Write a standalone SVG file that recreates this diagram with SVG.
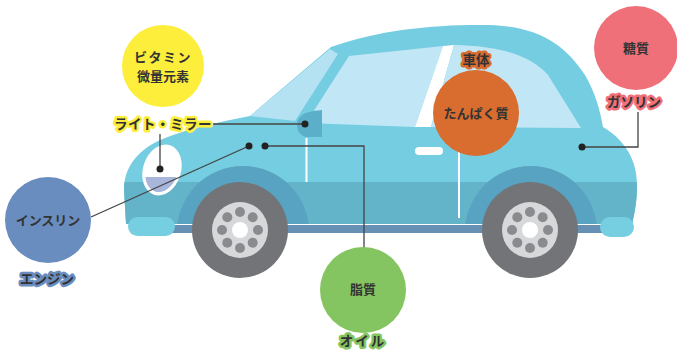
<svg xmlns="http://www.w3.org/2000/svg" width="677" height="354" viewBox="0 0 677 354">
  <defs>
    <style>
      .t { font-family: "Noto Sans CJK JP", "Noto Sans", sans-serif; font-weight: 700; fill: #333; text-anchor: middle; }
      .c { font-size: 13px; }
      .lbl { font-size: 13.5px; stroke-width: 5; stroke-linejoin: round; paint-order: stroke; }
      .ln { fill: none; stroke: #444; stroke-width: 1.3; }
      .dot { fill: #222; }
      .tire { fill: #737478; }
      .hub { fill: #d7d8da; }
      .bolt { fill: #8a8b8e; }
    </style>
    <clipPath id="bodyClip">
      <path d="M126,224 L124,190 C124,165 140,148 165,138 C190,128 220,122 250,116 L331,47 C380,29 440,24 490,25 C540,27 565,45 585,75 C595,92 600,110 603,127 C625,140 637,160 637,185 C637,200 635,212 632,224 Z"/>
    </clipPath>
    <clipPath id="lampLow">
      <rect x="130" y="177" width="60" height="30"/>
    </clipPath>
    <g id="wheel">
      <circle r="48" class="tire"/>
      <circle r="28" class="hub"/>
      <circle cx="0" cy="-18" r="5" class="bolt"/>
      <circle cx="12.7" cy="-12.7" r="5" class="bolt"/>
      <circle cx="18" cy="0" r="5" class="bolt"/>
      <circle cx="12.7" cy="12.7" r="5" class="bolt"/>
      <circle cx="0" cy="18" r="5" class="bolt"/>
      <circle cx="-12.7" cy="12.7" r="5" class="bolt"/>
      <circle cx="-18" cy="0" r="5" class="bolt"/>
      <circle cx="-12.7" cy="-12.7" r="5" class="bolt"/>
      <circle r="8" fill="#fff"/>
    </g>
  </defs>

  <rect width="677" height="354" fill="#fff"/>

  <!-- car body -->
  <g id="car">
    <g clip-path="url(#bodyClip)">
      <rect x="100" y="0" width="560" height="240" fill="#74cde0"/>
      <rect x="100" y="182" width="560" height="60" fill="#63b4c9"/>
      <circle cx="243" cy="232" r="66" fill="#57a3c1"/>
      <circle cx="531" cy="232" r="66" fill="#57a3c1"/>
    </g>
    <!-- underbody strip -->
    <rect x="160" y="225" width="450" height="8" fill="#6690b4"/>
    <!-- bumpers -->
    <rect x="128" y="217" width="47" height="19" rx="9.5" fill="#76cfe1"/>
    <rect x="600" y="217" width="34" height="20" rx="10" fill="#76cfe1"/>
    <!-- windshield glass -->
    <polygon points="250,116 330,49 338,54 295,121" fill="#b5e2f3"/>
    <!-- side windows -->
    <polygon points="349,56 443,46 415,127 306,123" fill="#c1e7f7"/>
    <polygon points="443,46 454,45 431,127 415,127" fill="#fff"/>
    <path d="M454,45 C500,46 530,55 548,75 L581,128 L431,127 Z" fill="#c1e7f7"/>
    <!-- mirror -->
    <path d="M322,110 L322,137 L306,137 C297,135 295,124 299,118 C304,112 312,111 322,110 Z" fill="#5bafc8"/>
    <!-- door lines and handle -->
    <line x1="306.5" y1="138" x2="306.5" y2="182" stroke="#fff" stroke-width="2"/>
    <line x1="459" y1="125" x2="459" y2="218" stroke="#fff" stroke-width="2"/>
    <rect x="415" y="147" width="28" height="8" rx="4" fill="#fff"/>
    <!-- headlight -->
    <g transform="rotate(18 162 170)">
      <ellipse cx="162" cy="170" rx="19" ry="26" fill="#fff"/>
    </g>
    <g clip-path="url(#lampLow)">
      <g transform="rotate(18 162 170)">
        <ellipse cx="162" cy="170" rx="16" ry="22.5" fill="#a9b6dc"/>
      </g>
    </g>
    <!-- wheels -->
    <use href="#wheel" x="240" y="230"/>
    <use href="#wheel" x="530" y="230"/>
  </g>

  <!-- connectors -->
  <g id="connectors">
    <polyline class="ln" points="213,124 305,124"/>
    <polyline class="ln" points="160,134 160,169"/>
    <polyline class="ln" points="91,217 249,146"/>
    <polyline class="ln" points="265,146 364,146 364,250"/>
    <polyline class="ln" points="582,147 638,147 638,112"/>
    <circle class="dot" cx="305" cy="124" r="3.5"/>
    <circle class="dot" cx="160" cy="169" r="3.5"/>
    <circle class="dot" cx="249" cy="146" r="3.5"/>
    <circle class="dot" cx="265" cy="146" r="3.5"/>
    <circle class="dot" cx="582" cy="147" r="3.5"/>
  </g>

  <!-- vitamins / lights and mirrors -->
  <g id="node-vitamin">
    <circle cx="163" cy="66" r="41" fill="#fcee3b"/>
    <text class="t c" x="163" y="62" letter-spacing="1.5">ビタミン</text>
    <text class="t c" x="163" y="81">微量元素</text>
    <text class="t lbl" x="163" y="129" stroke="#fcee3b" letter-spacing="0.5">ライト・ミラー</text>
  </g>

  <!-- insulin / engine -->
  <g id="node-insulin">
    <circle cx="48" cy="220" r="43" fill="#6a8dc0"/>
    <text class="t c" x="48" y="225">インスリン</text>
    <text class="t lbl" x="47" y="284" stroke="#6a8dc0">エンジン</text>
  </g>

  <!-- fat / oil -->
  <g id="node-fat">
    <circle cx="363" cy="290" r="43" fill="#85c561"/>
    <text class="t c" x="363" y="294">脂質</text>
    <text class="t lbl" x="363" y="346" stroke="#85c561" letter-spacing="2">オイル</text>
  </g>

  <!-- protein / body -->
  <g id="node-protein">
    <circle cx="476" cy="113" r="43" fill="#d96d2f"/>
    <text class="t c" x="476" y="118">たんぱく質</text>
    <text class="t lbl" x="476" y="65" stroke="#d96d2f">車体</text>
  </g>

  <!-- sugar / gasoline -->
  <g id="node-sugar">
    <circle cx="636" cy="48" r="42" fill="#f07079"/>
    <text class="t c" x="636" y="53">糖質</text>
    <text class="t lbl" x="634" y="107" stroke="#f07079">ガソリン</text>
  </g>
</svg>
